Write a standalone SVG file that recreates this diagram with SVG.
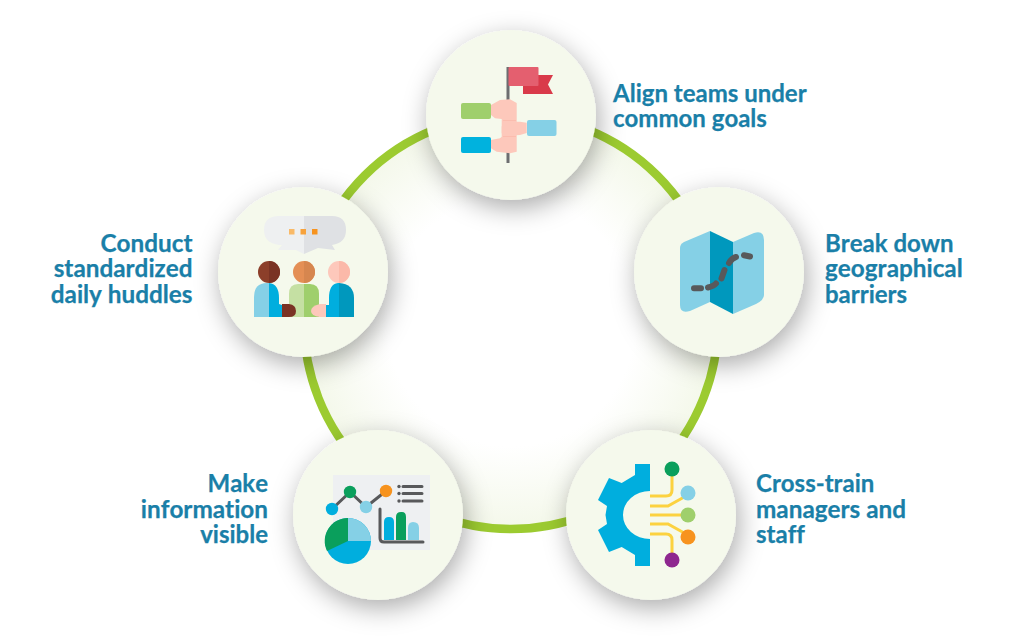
<svg xmlns="http://www.w3.org/2000/svg" width="1015" height="636" viewBox="0 0 1015 636">
<style>
.lbl{font-family:Lato,"Liberation Sans",sans-serif;font-weight:700;font-size:24px;fill:#1a7fa8;font-variant-ligatures:none;font-kerning:none;stroke:#1a7fa8;stroke-width:.25}
.w{font-size:24.300px}
.e{text-anchor:end}
.disc{fill:#f5f9ec;filter:url(#sh)}
.pk{fill:#fdc8bb}
.pd{fill:none;stroke:#fbbcae;stroke-width:1}
.wire{fill:none;stroke:#fcd23f;stroke-width:3}
.dg{fill:none;stroke:#58595b;stroke-linecap:round}
</style>
<defs>
<filter id="sh" x="-40%" y="-40%" width="180%" height="180%"><feDropShadow dx="3" dy="8" stdDeviation="13" flood-color="#000" flood-opacity=".33"/></filter>
<radialGradient id="rg" cx="50%" cy="50%" r="50%"><stop offset="0.6" stop-color="#fff"/><stop offset="1" stop-color="#f4f8ea"/></radialGradient>
</defs>
<rect width="1015" height="636" fill="#fff"/>
<g id="connectors"><circle cx="511" cy="322" r="207" fill="url(#rg)" stroke="#9ccb30" stroke-width="8.500"/></g>

<g id="node-align">
<circle class="disc" cx="511" cy="115" r="85"/>
<rect x="506.500" y="67" width="3" height="96" fill="#6d6e70"/>
<path d="M523 75H553L548 84.500L553 94H523Z" fill="#d93a4a"/>
<rect x="508.500" y="67" width="30" height="19" rx="1" fill="#e45f6f"/>
<rect x="461" y="103" width="30" height="16" rx="2" fill="#9fcf6c"/>
<rect x="527" y="120" width="29.500" height="16" rx="2" fill="#85d0e6"/>
<rect x="461" y="137" width="30" height="16" rx="2" fill="#00b2de"/>
<path class="pk" d="M491 105L500 100L510 99.300L516.700 103V151.700L510 153.300L496.700 151.700L491 148.300V140L500 138.300L501.700 136.700V119L495 118.300L491 115Z"/>
<path class="pk" d="M526.700 122.700L520 121.700H503.300L501.700 126.700V133.300L506.700 135.700L520 135L526.700 133Z"/>
<path class="pd" d="M503 120.500H516M503 136.500H516"/>
</g>

<g id="node-map">
<circle class="disc" cx="719" cy="272" r="85"/>
<path d="M710 231V302L690 311Q680 314 680 305V248Q680 244 684 242Z" fill="#85d0e6"/>
<path d="M733 242V314L756 304Q764 300 764 295V240Q764 230 754 233Z" fill="#85d0e6"/>
<path d="M710 231L733 242V314L710 302Z" fill="#0098bd"/>
<path d="M694 288.300H701M708 287.500Q714 286 716 283.500M721.500 278.500L724.500 270M729 263Q732 258 736 257M744 255.200L750 256.500" class="dg" stroke-width="6"/>
</g>

<g id="node-cross">
<circle class="disc" cx="651" cy="515" r="85"/>
<path d="M650 464H635V475L621.700 483L609 478L598 500L607 506L605.500 515L607 524L598 530L609 552L621.700 547L635 555V566H650V539A27 24 0 0 1 650 491Z" fill="#00aede"/>
<path class="wire" d="M650 496H666Q672 496 672 490V470M650 506H668L686 496M650 515H688M650 524H668L686 534M650 534H666Q672 534 672 540V560"/>
<circle cx="672" cy="469" r="7.500" fill="#0a9f5c"/>
<circle cx="688" cy="493" r="7.500" fill="#85d0e6"/>
<circle cx="688" cy="515" r="7.500" fill="#9fcf6c"/>
<circle cx="688" cy="537" r="7.500" fill="#f7931e"/>
<circle cx="672" cy="560" r="7.500" fill="#8e278f"/>
</g>

<g id="node-visible">
<circle class="disc" cx="378" cy="515" r="85"/>
<rect x="333" y="475" width="97" height="75" fill="#eef0f2"/>
<path d="M332 509L350 492L366 507L386 491" class="dg" stroke-width="3"/>
<circle cx="332" cy="509" r="6.200" fill="#00aede"/>
<circle cx="350" cy="492" r="6.200" fill="#0a9f5c"/>
<circle cx="366" cy="507" r="6.200" fill="#85d0e6"/>
<circle cx="386" cy="491" r="6.200" fill="#f7931e"/>
<path d="M403 486.500H422M403 493.500H422M403 501H422" class="dg" stroke-width="3"/>
<circle cx="399" cy="486.500" r="1.700" fill="#58595b"/><circle cx="399" cy="493.500" r="1.700" fill="#58595b"/><circle cx="399" cy="501" r="1.700" fill="#58595b"/>
<path d="M380 509V538Q380 542 384 542H423" class="dg" stroke-width="3"/>
<path d="M384 540V522Q384 517 389 517Q394 517 394 522V540Z" fill="#00aede"/>
<path d="M396 540V517Q396 512 401 512H402Q406 512 406 517V540Z" fill="#0a9f5c"/>
<path d="M408 540V528Q408 522 413 522Q419 522 419 528V540Z" fill="#85d0e6"/>
<circle cx="348" cy="541" r="23" fill="#00aede"/>
<path d="M348 541V518A23 23 0 0 1 371 541Z" fill="#85d0e6"/>
<path d="M348 541V518A23 23 0 0 0 327 551Z" fill="#0a9f5c"/>
</g>

<g id="node-huddles">
<circle class="disc" cx="303" cy="272" r="85"/>
<path d="M304 216H279Q264 216 264 230Q264 243 279 245H282L278 250L296 250L304 254Z" fill="#eef0f1"/>
<path d="M304 216H332Q346 216 346 230Q346 243 332 245L335 250L318 248L304 254Z" fill="#dfe1e4"/>
<rect x="289" y="229" width="5.500" height="5.500" fill="#f9ba68"/>
<rect x="300.500" y="229" width="5.500" height="5.500" fill="#f7a23b"/>
<rect x="312" y="229" width="5.500" height="5.500" fill="#f7931e"/>
<circle cx="269" cy="272" r="11" fill="#8c3f2a"/>
<path d="M269 261A11 11 0 0 1 269 283Z" fill="#7a3324"/>
<circle cx="304" cy="272" r="11" fill="#e48f55"/>
<path d="M304 261A11 11 0 0 1 304 283Z" fill="#d6864f"/>
<circle cx="339" cy="272" r="11" fill="#fdc8bb"/>
<path d="M339 261A11 11 0 0 1 339 283Z" fill="#fbb9a9"/>
<path d="M269 283H267Q254 283 254 297V317H269Z" fill="#85d0e6"/>
<path d="M269 283Q279 284 279 298V304L282 305V317H269Z" fill="#00aede"/>
<path d="M304 284H298Q289 284 289 294V317H304Z" fill="#c5e0a3"/>
<path d="M304 284H310Q319 284 319 294V317H304Z" fill="#9fcf6c"/>
<path d="M339 283H338Q329 284 329 298V305H326V317H339Z" fill="#00aede"/>
<path d="M339 283Q354 284 354 298V317H339Z" fill="#0098bd"/>
<path d="M282 304H289Q296 305 296 311Q296 317 289 317H282Z" fill="#7a3324"/>
<path d="M326 304H320Q311 306 311 311Q311 316 320 317H326Z" fill="#fdc8bb"/>
</g>

<g id="labels">
<text class="lbl" x="613" y="101.500">Align teams under</text>
<text class="lbl" x="613" y="127">common goals</text>
<text class="lbl" x="825" y="251.500">Break down</text>
<text class="lbl w" x="825" y="277">geographical</text>
<text class="lbl" x="825" y="303">barriers</text>
<text class="lbl" x="756" y="492">Cross-train</text>
<text class="lbl w" x="756" y="517.500">managers and</text>
<text class="lbl" x="756" y="543">staff</text>
<text class="lbl" style="text-anchor:end" x="268" y="492">Make</text>
<text class="lbl w e" x="268" y="517.500">information</text>
<text class="lbl e" x="268" y="543">visible</text>
<text class="lbl w e" x="192.500" y="251.500">Conduct</text>
<text class="lbl w e" x="192.500" y="277">standardized</text>
<text class="lbl w e" x="192.500" y="303">daily huddles</text>
</g>
</svg>
